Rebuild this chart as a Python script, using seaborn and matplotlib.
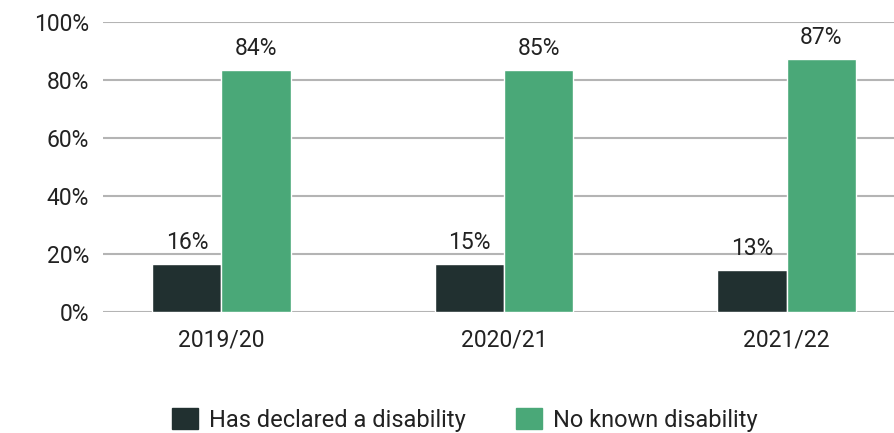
import pandas as pd
import seaborn as sns
import matplotlib.pyplot as plt

# values
years = ['2019/20', '2020/21', '2021/22']
groups = ['Has declared a disability', 'No known disability']
declared = [16.4, 16.4, 14.4]
no_known = [83.3, 83.3, 87.1]
declared_labels = ['16%', '15%', '13%']
no_known_labels = ['84%', '85%', '87%']
y_ticks = [0, 20, 40, 60, 80, 100]

colors = ['#213030', '#4aa878']

df = pd.DataFrame({
    'year': years * 2,
    'group': [groups[0]] * 3 + [groups[1]] * 3,
    'share': declared + no_known,
})

sns.set_theme(style='white')
plt.rcParams['font.family'] = ['Roboto', 'DejaVu Sans']

fig = plt.figure(figsize=(8.94, 4.33), dpi=100)
ax = fig.add_axes([0.115, 0.28, 0.885, 0.67])

sns.barplot(data=df, x='year', y='share', hue='group', hue_order=groups,
            palette=colors, width=0.49, saturation=1, ax=ax, legend=False)

for container, labels in zip(ax.containers, [declared_labels, no_known_labels]):
    ax.bar_label(container, labels=labels, padding=7, fontsize=16.5, color='#222222')

ax.set_ylim(0, 100)
ax.set_xlim(-0.42, 2.38)
ax.set_yticks(y_ticks)
ax.set_yticklabels([f'{t}%' for t in y_ticks])
ax.yaxis.grid(True, color='#b4b4b4', linewidth=1.5)
ax.set_axisbelow(True)
sns.despine(ax=ax, left=True, bottom=True)
ax.tick_params(axis='y', length=0, pad=10, labelsize=16.5, labelcolor='#222222')
ax.tick_params(axis='x', length=0, pad=12, labelsize=16.5, labelcolor='#222222')
ax.set_xlabel('')
ax.set_ylabel('')

handles = [plt.Rectangle((0, 0), 1, 1, color=c) for c in colors]
fig.legend(handles, groups, loc='lower center', bbox_to_anchor=(0.52, -0.046),
           ncol=2, frameon=False, fontsize=17, handlelength=1.1,
           handleheight=1.0, handletextpad=0.47, columnspacing=2.1,
           labelcolor='#222222')

fig.savefig('out.png', dpi=100)
